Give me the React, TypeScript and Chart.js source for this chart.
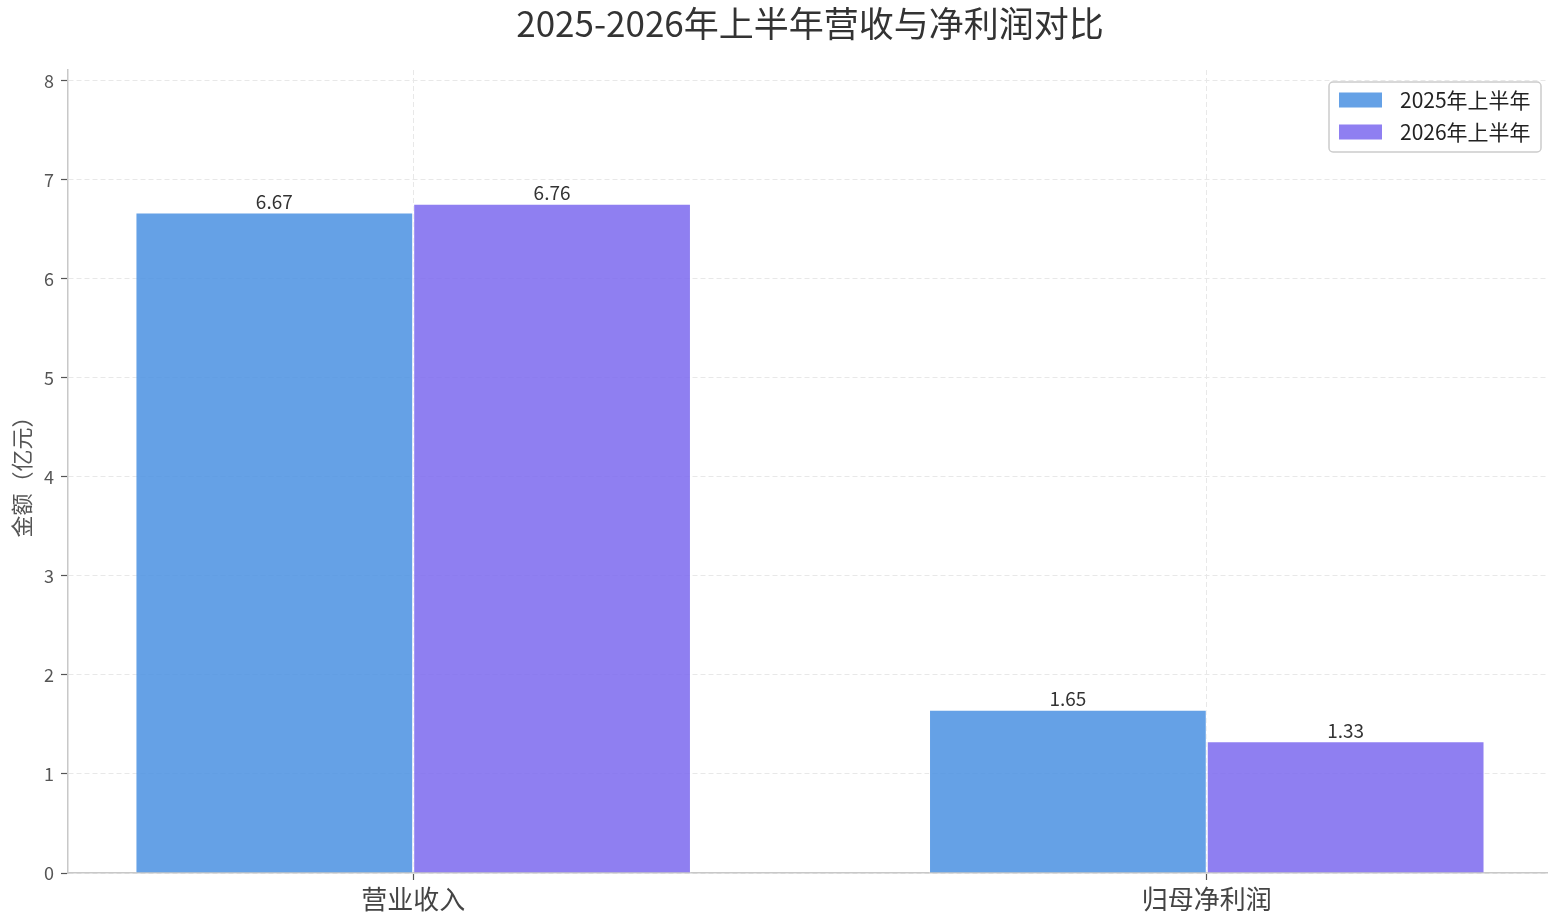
import { useEffect, useRef } from "react";
import { Chart, registerables } from "chart.js";

Chart.register(...registerables);

// 数据
const categories = ["营业收入", "归母净利润"];
const seriesNames = ["2025年上半年", "2026年上半年"];
const revenue2025 = [6.67, 1.65];
const revenue2026 = [6.76, 1.33];
const yTicks = [0, 1, 2, 3, 4, 5, 6, 7, 8];
const titleText = "2025-2026年上半年营收与净利润对比";
const yAxisTitle = "金额（亿元）";

const seriesColors = ["rgba(74, 144, 226, 0.85)", "rgba(123, 104, 238, 0.85)"];
const FONT = '"Noto Sans CJK SC", "DejaVu Sans", sans-serif';

// 标题（居中于绘图区）
const titlePlugin = {
  id: "customTitle",
  afterDraw(chart: Chart) {
    const { ctx, chartArea } = chart;
    ctx.save();
    ctx.font = `35px ${FONT}`;
    ctx.fillStyle = "#333";
    ctx.textAlign = "center";
    ctx.textBaseline = "middle";
    ctx.fillText(titleText, (chartArea.left + chartArea.right) / 2 + 2, 24);
    ctx.restore();
  },
};

// 柱顶数值
const valueLabels = {
  id: "valueLabels",
  afterDatasetsDraw(chart: Chart) {
    const { ctx } = chart;
    ctx.save();
    ctx.font = `19px ${FONT}`;
    ctx.fillStyle = "#333";
    ctx.textAlign = "center";
    ctx.textBaseline = "bottom";
    chart.data.datasets.forEach((ds, i) => {
      chart.getDatasetMeta(i).data.forEach((el: any, j) => {
        const v = (ds.data[j] as any).y as number;
        ctx.fillText(v.toFixed(2), el.x, el.y - 1);
      });
    });
    ctx.restore();
  },
};

// 图例（右上角，在绘图区内）
const legendBox = {
  id: "legendBox",
  afterDraw(chart: Chart) {
    const { ctx, chartArea } = chart;
    const w = 212;
    const h = 70;
    const x = chartArea.right - 7 - w;
    const y = chartArea.top + 12;
    ctx.save();
    ctx.beginPath();
    ctx.roundRect(x, y, w, h, 4);
    ctx.fillStyle = "rgba(255,255,255,0.85)";
    ctx.fill();
    ctx.strokeStyle = "#cccccc";
    ctx.lineWidth = 1.5;
    ctx.stroke();
    ctx.font = `21px ${FONT}`;
    ctx.textAlign = "left";
    ctx.textBaseline = "middle";
    seriesNames.forEach((name, i) => {
      const cy = y + 18 + i * 32;
      ctx.fillStyle = seriesColors[i];
      ctx.fillRect(x + 10, cy - 7.5, 43, 15);
      ctx.fillStyle = "#222";
      ctx.fillText(name, x + 71, cy);
    });
    ctx.restore();
  },
};

export default function App() {
  const canvasRef = useRef<HTMLCanvasElement>(null);
  const chartRef = useRef<Chart | null>(null);

  useEffect(() => {
    document.body.style.margin = "0";
    if (!canvasRef.current) return;
    const ctx = canvasRef.current.getContext("2d");
    if (!ctx) return;

    const datasets = [revenue2025, revenue2026].map((vals, i) => ({
      label: seriesNames[i],
      data: vals.map((v, j) => ({ x: j, y: v })),
      backgroundColor: seriesColors[i],
      borderColor: "rgba(255,255,255,0.7)",
      borderWidth: 1,
      categoryPercentage: 0.7,
      barPercentage: 1.0,
    }));

    if (chartRef.current) chartRef.current.destroy();

    chartRef.current = new Chart(ctx, {
      type: "bar",
      data: { datasets },
      plugins: [titlePlugin, valueLabels, legendBox],
      options: {
        animation: false,
        responsive: true,
        maintainAspectRatio: false,
        layout: { padding: { top: 70, right: 0, left: 0, bottom: 0 } },
        plugins: {
          legend: { display: false },
          tooltip: { enabled: false },
        },
        scales: {
          x: {
            type: "linear",
            min: -0.435,
            max: 1.43,
            offset: false,
            afterBuildTicks: (scale: any) => {
              scale.ticks = categories.map((_, i) => ({ value: i }));
            },
            afterFit: (scale: any) => {
              scale.height = 43;
            },
            ticks: {
              callback: (v: any) => categories[Math.round(Number(v))] ?? "",
              font: { size: 26, family: FONT },
              color: "#444",
              padding: 4,
              maxRotation: 0,
            },
            grid: {
              offset: false,
              color: "#e8e8e8",
              lineWidth: 1,
              tickLength: 7,
              tickColor: "#555",
              tickWidth: 1.2,
              tickBorderDash: [],
            },
            border: { display: true, color: "#c8c8c8", width: 1.5, dash: [5, 3] },
          },
          y: {
            min: 0,
            max: 8.11,
            afterBuildTicks: (scale: any) => {
              scale.ticks = yTicks.map((v) => ({ value: v }));
            },
            afterFit: (scale: any) => {
              scale.width = 68;
            },
            ticks: {
              font: { size: 18, family: FONT },
              color: "#555",
              padding: 7,
            },
            grid: {
              color: "#e8e8e8",
              lineWidth: 1,
              tickLength: 7,
              tickColor: "#555",
              tickWidth: 1.2,
              tickBorderDash: [],
            },
            border: { display: true, color: "#c8c8c8", width: 1.5, dash: [5, 3] },
            title: {
              display: true,
              text: yAxisTitle,
              font: { size: 22, family: FONT },
              color: "#555",
              padding: { top: 8, bottom: 4 },
            },
          },
        },
      },
    });

    return () => {
      chartRef.current?.destroy();
      chartRef.current = null;
    };
  }, []);

  return (
    <div style={{ width: "1548px", height: "916px", position: "relative" }}>
      <canvas ref={canvasRef} />
    </div>
  );
}
